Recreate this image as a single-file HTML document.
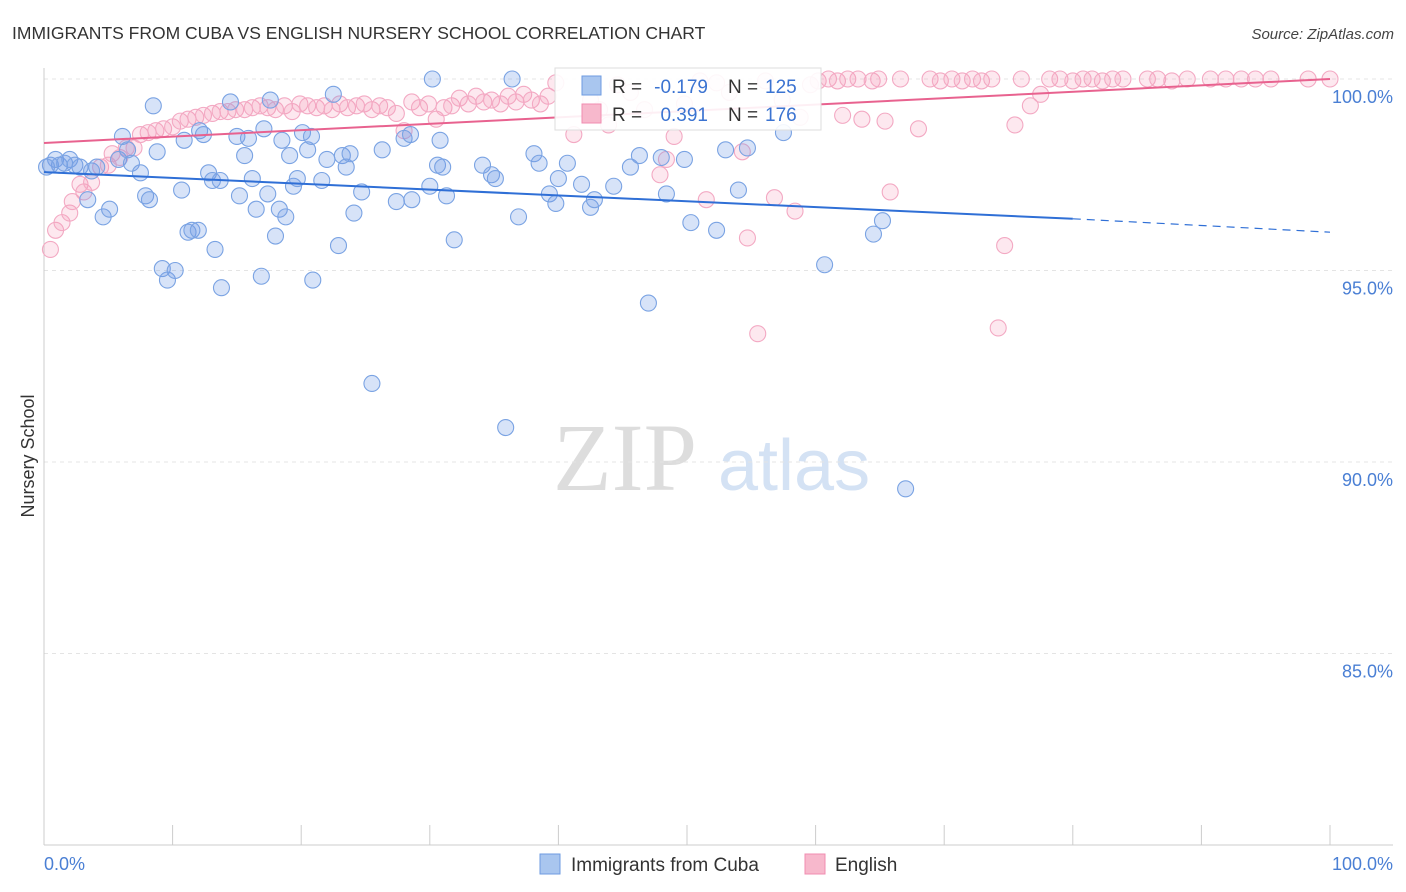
<!DOCTYPE html>
<html><head><meta charset="utf-8"><style>
body{margin:0;background:#fff;font-family:"Liberation Sans",sans-serif;}
svg{display:block}
</style></head><body>
<svg id="chart" width="1406" height="892">
<text x="12" y="39" font-size="17.5" fill="#333">IMMIGRANTS FROM CUBA VS ENGLISH NURSERY SCHOOL CORRELATION CHART</text>
<text x="1394" y="39" font-size="15" fill="#444" text-anchor="end" font-style="italic">Source: ZipAtlas.com</text>
<g>
<text x="553" y="490" font-size="96" font-family="Liberation Serif,serif" fill="#ddd">ZIP</text>
<text x="718" y="490" font-size="72" fill="#d4e2f4">atlas</text>
</g>
<g id="grid"></g>
<g id="axes"></g>
<g id="pts"></g>
<g id="lines"></g>
<text x="34" y="456" font-size="18" fill="#333" transform="rotate(-90 34 456)" text-anchor="middle">Nursery School</text>
<g>
<rect x="555" y="68" width="266" height="62" fill="#fff" fill-opacity="0.9" stroke="#ddd"/>
<rect x="582" y="76" width="19" height="19" fill="#a9c6ef" stroke="#6e9be0"/>
<text x="612" y="93" font-size="19" fill="#333">R =</text>
<text x="708" y="93" font-size="19" fill="#3b73d1" text-anchor="end">-0.179</text>
<text x="728" y="93" font-size="19" fill="#333">N =</text>
<text x="765" y="93" font-size="19" fill="#3b73d1">125</text>
<rect x="582" y="104" width="19" height="19" fill="#f7b8cc" stroke="#f08cb0"/>
<text x="612" y="121" font-size="19" fill="#333">R =</text>
<text x="708" y="121" font-size="19" fill="#3b73d1" text-anchor="end">0.391</text>
<text x="728" y="121" font-size="19" fill="#333">N =</text>
<text x="765" y="121" font-size="19" fill="#3b73d1">176</text>
</g>
<g>
<rect x="540" y="854" width="20" height="20" fill="#a9c6ef" stroke="#6e9be0"/>
<text x="571" y="871" font-size="19" fill="#333">Immigrants from Cuba</text>
<rect x="805" y="854" width="20" height="20" fill="#f7b8cc" stroke="#f08cb0"/>
<text x="835" y="871" font-size="19" fill="#333">English</text>
</g>
</svg>
<script>
const yTicks=[100,95,90,85];
const yTickLabels=["100.0%","95.0%","90.0%","85.0%"];
const xTickVals=[0,10,20,30,40,50,60,70,80,90,100];
const cubaX=[0.5,0.9,1.2,1.6,2.0,2.4,2.8,3.4,3.7,4.1,4.6,5.1,5.8,6.1,6.5,6.8,7.5,7.9,8.2,8.5,8.8,9.2,9.6,10.2,10.7,10.9,11.2,11.5,12.0,12.1,12.4,12.8,13.1,13.3,13.7,13.8,14.5,15.0,15.2,15.6,15.9,16.2,16.5,16.9,17.1,17.4,17.6,18.0,18.3,18.5,18.8,19.1,19.4,19.7,20.1,20.5,20.8,20.9,21.6,22.0,22.5,22.9,23.2,23.5,23.8,24.1,24.7,25.5,26.3,27.4,28.0,28.5,28.6,30.0,30.2,30.6,30.8,31.0,31.3,31.9,34.1,34.8,35.1,35.9,36.4,36.9,38.1,38.5,39.3,39.8,40.0,40.7,41.8,42.5,42.8,44.3,45.6,46.3,47.0,48.0,48.4,49.8,50.3,52.3,53.0,54.0,54.7,57.5,60.7,64.5,65.2,67.0,0.2];
const cubaY=[97.75,97.9,97.75,97.8,97.9,97.75,97.7,96.85,97.6,97.7,96.4,96.6,97.9,98.5,98.15,97.8,97.55,96.95,96.85,99.3,98.1,95.05,94.75,95.0,97.1,98.4,96.0,96.05,96.05,98.65,98.55,97.55,97.35,95.55,97.35,94.55,99.4,98.5,96.95,98.0,98.45,97.4,96.6,94.85,98.7,97.0,99.45,95.9,96.6,98.4,96.4,98.0,97.2,97.4,98.6,98.15,98.5,94.75,97.35,97.9,99.6,95.65,98.0,97.7,98.05,96.5,97.05,92.05,98.15,96.8,98.45,98.55,96.85,97.2,100.0,97.75,98.4,97.7,96.95,95.8,97.75,97.5,97.4,90.9,100.0,96.4,98.05,97.8,97.0,96.75,97.4,97.8,97.25,96.65,96.85,97.2,97.7,98.0,94.15,97.95,97.0,97.9,96.25,96.05,98.15,97.1,98.2,98.6,95.15,95.95,96.3,89.3,97.7];
const engX=[0.5,0.9,1.4,2.0,2.2,2.8,3.1,3.7,4.4,5.0,5.3,5.9,6.4,7.0,7.5,8.1,8.7,9.3,10.0,10.6,11.2,11.8,12.4,13.1,13.7,14.3,14.9,15.6,16.2,16.8,17.4,18.0,18.7,19.3,19.9,20.5,21.2,21.8,22.4,23.0,23.6,24.3,24.9,25.5,26.1,26.7,27.4,28.0,28.6,29.2,29.9,30.5,31.1,31.7,32.3,33.0,33.6,34.2,34.8,35.5,36.1,36.7,37.3,37.9,38.6,39.2,39.8,41.2,42.5,43.2,43.9,44.6,45.6,46.7,47.9,48.4,49.0,49.8,51.0,51.5,52.3,53.3,54.3,54.7,55.5,56.1,56.8,57.4,58.4,58.8,59.6,60.2,61.0,61.7,62.1,62.5,63.3,63.6,64.4,64.9,65.4,65.8,66.6,68.0,68.9,69.7,70.6,71.4,72.2,72.9,73.7,74.2,74.7,75.5,76.0,76.7,77.5,78.2,79.0,80.0,80.8,81.5,82.3,83.1,83.9,85.8,86.6,87.7,88.9,90.7,91.9,93.1,94.2,95.4,98.3,100];
const engY=[95.55,96.05,96.25,96.5,96.8,97.25,97.05,97.3,97.7,97.75,98.05,97.95,98.2,98.2,98.55,98.6,98.65,98.7,98.75,98.9,98.95,99.0,99.05,99.1,99.15,99.15,99.2,99.2,99.25,99.3,99.25,99.2,99.3,99.15,99.35,99.3,99.25,99.3,99.2,99.35,99.25,99.3,99.35,99.2,99.3,99.25,99.1,98.65,99.4,99.25,99.35,98.95,99.25,99.3,99.5,99.35,99.55,99.4,99.45,99.35,99.55,99.4,99.6,99.45,99.35,99.55,99.9,98.55,99.45,99.2,98.8,99.85,99.65,99.2,97.5,97.9,98.5,99.35,99.95,96.85,99.9,99.65,98.1,95.85,93.35,99.95,96.9,99.45,96.55,99.0,99.85,99.95,100,99.95,99.05,100,100,98.95,99.95,100,98.9,97.05,100,98.7,100,99.95,100,99.95,100,99.95,100,93.5,95.65,98.8,100,99.3,99.6,100,100,99.95,100,100,99.95,100,100,100,100,99.95,100,100,100,100,100,100,100,100];
const cubaTrend=[[0,97.57],[80,96.35],[100,96.0]];
const engTrend=[[0,98.33],[100,100.0]];
const X=v=>44+v*12.86, Y=v=>79+(100-v)*38.3;
const NS="http://www.w3.org/2000/svg";
function mk(tag,attrs,parent){const e=document.createElementNS(NS,tag);for(const k in attrs)e.setAttribute(k,attrs[k]);parent.appendChild(e);return e;}
const grid=document.getElementById('grid'),axes=document.getElementById('axes'),pts=document.getElementById('pts'),lines=document.getElementById('lines');
yTicks.forEach((t,i)=>{
 const l=mk('line',{x1:44,x2:1393,y1:Y(t),y2:Y(t),stroke:'#e4e4e4','stroke-dasharray':'4,4'},grid);
 
 
 const tx=mk('text',{x:1393,y:Y(t)+24,'font-size':18,fill:'#4a7fd4','text-anchor':'end'},axes);
 tx.textContent=yTickLabels[i];
 
 
});
let a=mk('line',{x1:44,x2:44,y1:68,y2:845,stroke:'#ccc'},axes);


a=mk('line',{x1:44,x2:1393,y1:845,y2:845,stroke:'#ccc'},axes);


xTickVals.forEach(v=>{
 const t=mk('line',{x1:X(v),x2:X(v),y1:825,y2:845,stroke:'#ccc'},axes);
 
 
});
let xl=mk('text',{x:44,y:870,'font-size':18,fill:'#4a7fd4'},axes);xl.textContent='0.0%';


xl=mk('text',{x:1393,y:870,'font-size':18,fill:'#4a7fd4','text-anchor':'end'},axes);xl.textContent='100.0%';


engX.forEach((x,i)=>{
 const c=mk('circle',{cx:X(x),cy:Y(engY[i]),r:8,fill:'rgba(244,150,182,0.22)',stroke:'#f3a9c3','stroke-width':1.1},pts);
 
 
});
cubaX.forEach((x,i)=>{
 const c=mk('circle',{cx:X(x),cy:Y(cubaY[i]),r:8,fill:'rgba(110,155,230,0.28)',stroke:'#7aa3e3','stroke-width':1.1},pts);
 
 
});
let tl=mk('line',{x1:X(cubaTrend[0][0]),y1:Y(cubaTrend[0][1]),x2:X(cubaTrend[1][0]),y2:Y(cubaTrend[1][1]),stroke:'#2f6fd6','stroke-width':2},lines);


tl=mk('line',{x1:X(cubaTrend[1][0]),y1:Y(cubaTrend[1][1]),x2:X(cubaTrend[2][0]),y2:Y(cubaTrend[2][1]),stroke:'#2f6fd6','stroke-width':1.2,'stroke-dasharray':'8,6'},lines);


tl=mk('line',{x1:X(engTrend[0][0]),y1:Y(engTrend[0][1]),x2:X(engTrend[1][0]),y2:Y(engTrend[1][1]),stroke:'#e8628f','stroke-width':2},lines);


</script>
</body></html>
